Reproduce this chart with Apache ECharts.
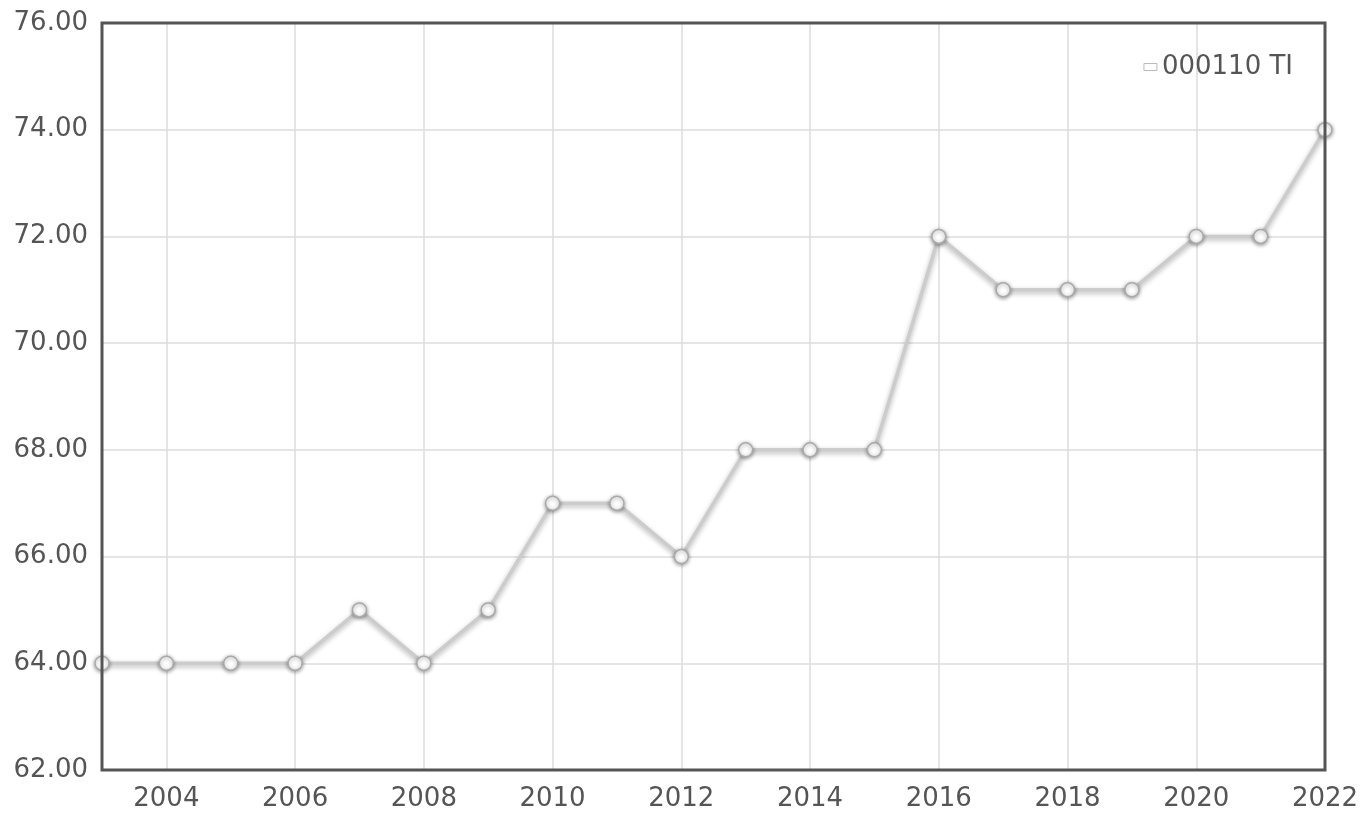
<!DOCTYPE html>
<html>
<head>
<meta charset="utf-8">
<script src="https://cdn.jsdelivr.net/npm/echarts@6/dist/echarts.min.js"></script>
<style>html,body{margin:0;padding:0;background:#fff}#c{width:1366px;height:828px}</style>
</head>
<body>
<div id="c"></div>
<script>
const years = ['2003','2004','2005','2006','2007','2008','2009','2010','2011','2012','2013','2014','2015','2016','2017','2018','2019','2020','2021','2022'];
const values = [64,64,64,64,65,64,65,67,67,66,68,68,68,72,71,71,71,72,72,74];
const seriesName = '000110 TI';

const chart = echarts.init(document.getElementById('c'));
const evenYear = (i, v) => parseInt(v, 10) % 2 === 0;
chart.setOption({
  animation: false,
  textStyle: { fontFamily: 'DejaVu Sans' },
  grid: { left: 102, right: 41, top: 23, bottom: 58, show: true, borderColor: '#555', borderWidth: 3, backgroundColor: 'transparent', z: 10 },
  legend: {
    right: 68, top: 49,
    itemWidth: 13, itemHeight: 7, itemGap: 6,
    icon: 'rect',
    textStyle: { fontSize: 26, color: '#555', fontFamily: 'DejaVu Sans' },
    data: [{ name: seriesName, itemStyle: { color: '#fff', borderColor: '#bbb', borderWidth: 1 } }]
  },
  xAxis: {
    type: 'category',
    data: years,
    boundaryGap: false,
    axisLine: { show: false },
    axisTick: { show: false },
    axisLabel: { interval: evenYear, fontSize: 26, color: '#555', margin: 16 },
    splitLine: { show: true, interval: evenYear, lineStyle: { color: '#ddd', width: 1.5 } }
  },
  yAxis: {
    type: 'value',
    min: 62, max: 76, interval: 2,
    axisLine: { show: false },
    axisTick: { show: false },
    axisLabel: { fontSize: 26, color: '#555', margin: 14, formatter: v => v.toFixed(2) },
    splitLine: { show: true, lineStyle: { color: '#ddd', width: 1.5 } }
  },
  series: [{
    name: seriesName,
    type: 'line',
    data: values,
    symbol: 'circle',
    symbolSize: 14,
    itemStyle: { color: '#fff', borderColor: '#aaa', borderWidth: 1.5, shadowColor: 'rgba(0,0,0,0.4)', shadowBlur: 4, shadowOffsetY: 1 },
    lineStyle: { color: '#ccc', width: 3.5, shadowColor: 'rgba(0,0,0,0.3)', shadowBlur: 5, shadowOffsetY: 2 },
    z: 5
  }]
});
</script>
</body>
</html>
